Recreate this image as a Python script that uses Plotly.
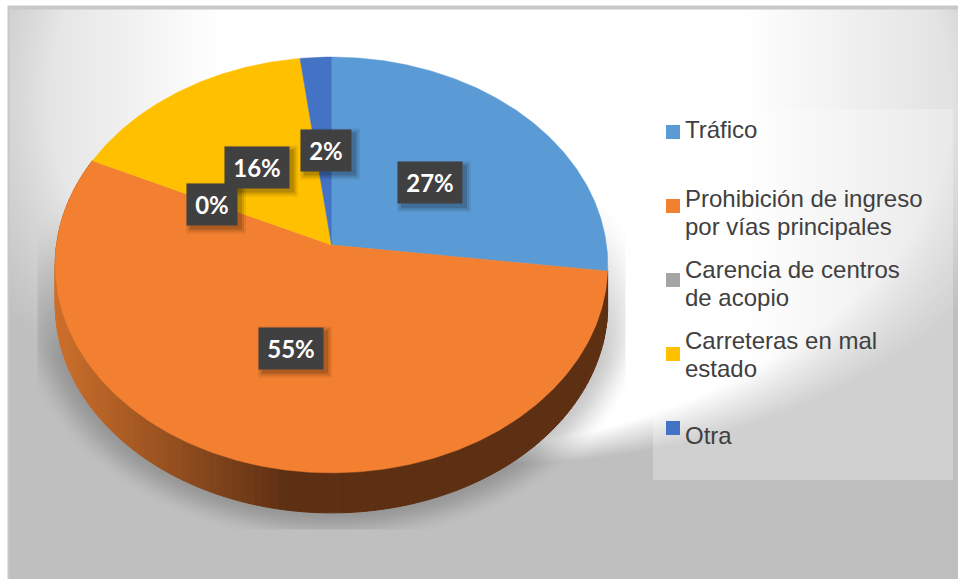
import numpy as np
import plotly.graph_objects as go

categories = ["Tráfico", "Prohibición de ingreso<br>por vías principales",
              "Carencia de centros<br>de acopio", "Carreteras en mal<br>estado", "Otra"]
values = [27, 55, 0, 16, 2]
percent_labels = ["27%", "55%", "0%", "16%", "2%"]
colors = ["#5B9BD5", "#F37F30", "#A5A5A5", "#FFC000", "#4472C4"]

W, H = 958, 579
# label box centres in pixels (decoration placement)
label_pos = {"27%": (430, 182.5), "55%": (291, 348), "0%": (212, 204), "16%": (257, 167), "2%": (326, 150)}
label_w = {"27%": 64, "55%": 64, "0%": 50, "16%": 64, "2%": 50}
# legend placement: swatch top edge and text line centres per entry
legend_swatch_top = [125, 199, 273, 347, 421]
legend_line_y = [[129], [198, 226], [269, 297], [340, 368], [435]]

# tilted-disc projection of the pie
APEX = (331.5, 245.0)
A, B, K = 275.0, 206.0, -0.096
DEPTH = 40.0


def disc(theta, r=1.0):
    u, v = r * np.sin(theta), -r * np.cos(theta)
    d = 1 + K * v
    return APEX[0] + A * u / d, APEX[1] + B * v / d


def sstep(t):
    t = np.clip(t, 0, 1)
    return t * t * (3 - 2 * t)


# background: back wall, floor, and the pie's soft shadow
xs = np.arange(0, W + 2, 2.0)
ys = np.arange(0, H + 2, 2.0)
X, Y = np.meshgrid(xs, ys)
wall = 255 - 33 * np.clip((220 - X) / 210, 0, 1) ** 1.0 - 30 * np.clip((X - 740) / 218, 0, 1)
t = np.sqrt(((X - 480) / 587) ** 2 + ((Y - 100) / 365) ** 2)
soft = 0.06 + np.where(X < 550, 0.22 * (550 - X) / 540, 0.14 * (X - 550) / 407)
floor_mix = np.clip((t - (1 - soft)) / soft, 0, 1)
bg = wall * (1 - floor_mix) + 191 * floor_mix
ts = np.sqrt(((X - 331) / 277) ** 2 + ((Y - 305) / 208) ** 2)
fall = 1 - sstep((ts - 0.98) / 0.17)
upper = np.clip((Y - 190) / 170, 0, 1)
shadow = 0.22 * fall * upper
shadow[(X < 37) | (X > 625) | (Y > 529)] = 0
bg = bg * (1 - shadow)
bg[(X < 10) | (Y < 9)] = 200
bg[(X < 7) | (Y < 6)] = 255

fig = go.Figure()
fig.add_trace(go.Heatmap(x=xs, y=ys, z=np.round(bg).astype(int), zmin=0, zmax=255,
                         colorscale=[[0, "#000000"], [1, "#ffffff"]], showscale=False,
                         zsmooth="best", hoverinfo="skip"))

fractions = np.cumsum([0] + values) / sum(values) * 2 * np.pi

# side wall of the disc, following the orange slice
side = np.linspace(fractions[1], fractions[2], 131)
for a0, a1 in zip(side[:-1], side[1:]):
    x0, y0 = disc(a0)
    x1, y1 = disc(a1)
    k = np.clip((0.5 * (x0 + x1) - 55) / 230, 0, 1)
    c = [int(round(p + (q - p) * k)) for p, q in zip((205, 112, 44), (94, 48, 19))]
    col = f"rgb({c[0]},{c[1]},{c[2]})"
    fig.add_trace(go.Scatter(x=[x0, x1, x1, x0, x0], y=[y0, y1, y1 + DEPTH, y0 + DEPTH, y0], mode="lines",
                             line=dict(color=col, width=1), fill="toself", fillcolor=col,
                             showlegend=False, hoverinfo="skip"))

# top face wedges
for i, cat in enumerate(categories):
    if values[i] == 0:
        continue
    th = np.linspace(fractions[i], fractions[i + 1], max(4, int(values[i] * 6)))
    ex, ey = disc(th)
    fig.add_trace(go.Scatter(x=np.r_[APEX[0], ex, APEX[0]], y=np.r_[APEX[1], ey, APEX[1]], mode="lines",
                             line=dict(color=colors[i], width=0.5), fill="toself", fillcolor=colors[i],
                             name=cat.replace("<br>", " "), showlegend=False, hoverinfo="skip"))

shapes = [dict(type="rect", x0=653, x1=953, y0=109, y1=480, line_width=0,
               fillcolor="rgba(255,255,255,0.27)", layer="above")]
annotations = []
for i, cat in enumerate(categories):
    top = legend_swatch_top[i]
    shapes.append(dict(type="rect", x0=666, x1=680, y0=top, y1=top + 14, line_width=0,
                       fillcolor=colors[i], layer="above"))
    for line, ly in zip(cat.split("<br>"), legend_line_y[i]):
        annotations.append(dict(x=684, y=ly, xref="x", yref="y", text=line, showarrow=False,
                                xanchor="left", yanchor="middle", borderpad=0,
                                font=dict(family="Liberation Sans", size=24, color="#404040")))

for lab in ["27%", "55%", "2%", "16%", "0%"]:
    cx, cy = label_pos[lab]
    w = label_w[lab]
    for g, al in ((6, 0.07), (4, 0.10), (2, 0.14)):
        shapes.append(dict(type="rect", x0=cx - w / 2 + 5 - g, x1=cx + w / 2 + 3 + g,
                           y0=cy - 20.5 + 5 - g, y1=cy + 20.5 + 3 + g, line_width=0,
                           fillcolor=f"rgba(0,0,0,{al})", layer="above"))
for lab in ["27%", "55%", "2%", "16%", "0%"]:
    cx, cy = label_pos[lab]
    annotations.append(dict(x=cx, y=cy, xref="x", yref="y", text=f"<b>{lab}</b>", showarrow=False,
                            width=label_w[lab], height=41, bgcolor="#404040", borderpad=0,
                            xanchor="center", yanchor="middle",
                            font=dict(family="Lato", size=24, color="#ffffff")))

fig.update_layout(
    width=W, height=H, margin=dict(l=0, r=0, t=0, b=0), paper_bgcolor="#ffffff", plot_bgcolor="#ffffff",
    xaxis=dict(range=[0, W], visible=False, fixedrange=True),
    yaxis=dict(range=[H, 0], visible=False, fixedrange=True),
    shapes=shapes, annotations=annotations, showlegend=False,
)
fig.write_html("out.html", post_script="document.body.style.margin='0';",
               config={"displayModeBar": False})
